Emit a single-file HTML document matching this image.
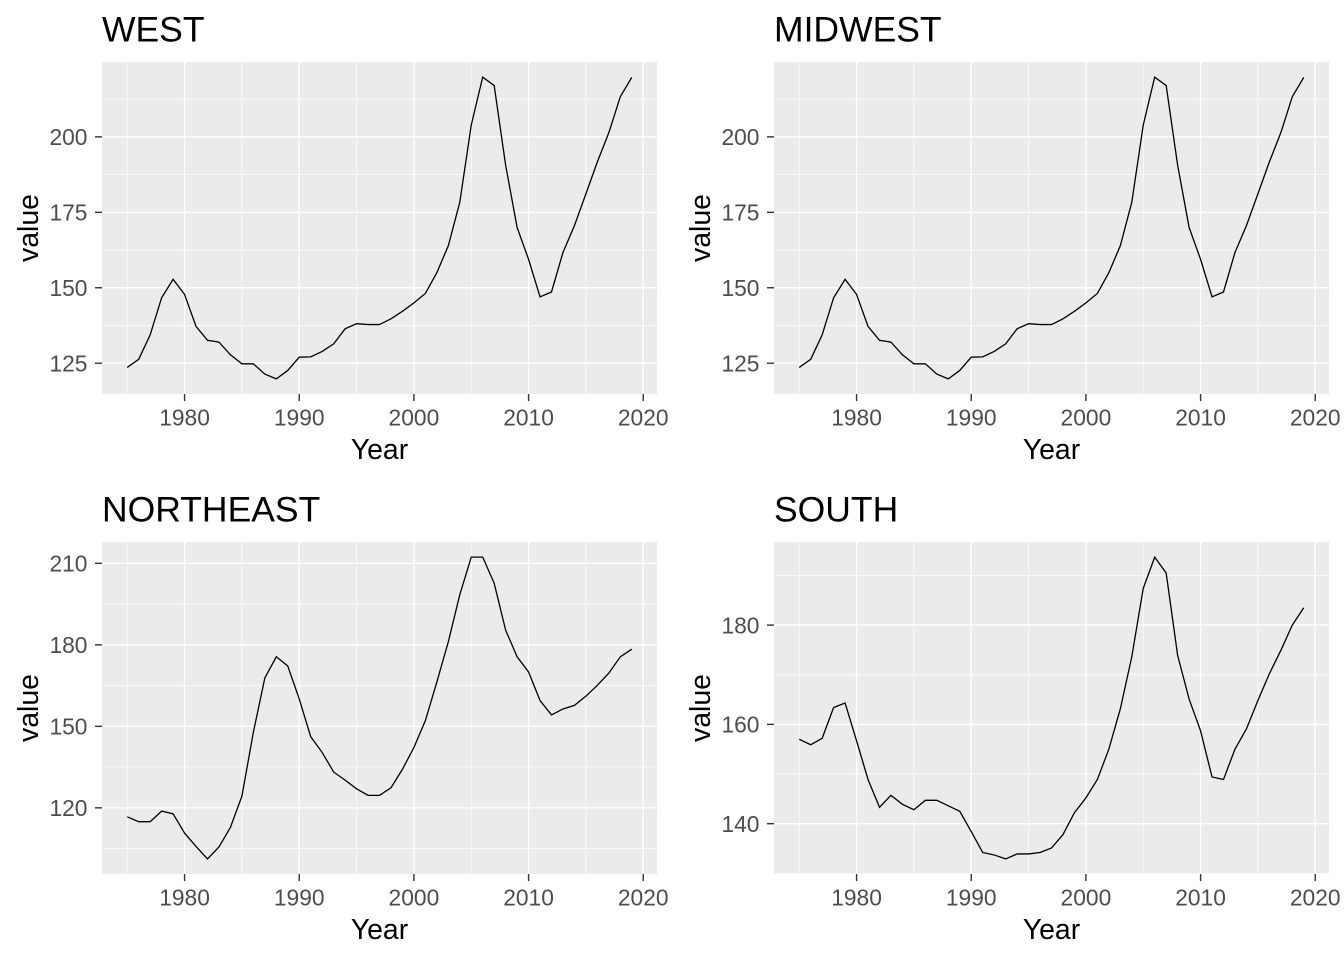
<!DOCTYPE html>
<html><head><meta charset="utf-8"><style>
html,body{margin:0;padding:0;background:#fff;}
svg{display:block;font-family:"Liberation Sans",Arial,sans-serif;}
</style></head><body>
<svg id="chart" width="1344" height="960" viewBox="0 0 1344 960" xmlns="http://www.w3.org/2000/svg"></svg>
<script>
const years = [];
for (let y = 1975; y <= 2019; y++) years.push(y);
const westValues = [123.6,126.3,134.4,146.7,152.8,147.8,137.2,132.6,132,127.8,124.8,124.8,121.4,119.8,122.6,127,127.1,128.9,131.4,136.4,138.1,137.8,137.8,139.7,142.2,145,148.1,155,163.9,178.3,203.9,219.8,217,190.6,170,159.4,147,148.6,161.7,170.6,181.1,191.7,201.4,213.3,219.7];
const midwestValues = [123.6,126.3,134.4,146.7,152.8,147.8,137.2,132.6,132,127.8,124.8,124.8,121.4,119.8,122.6,127,127.1,128.9,131.4,136.4,138.1,137.8,137.8,139.7,142.2,145,148.1,155,163.9,178.3,203.9,219.8,217,190.6,170,159.4,147,148.6,161.7,170.6,181.1,191.7,201.4,213.3,219.7];
const northeastValues = [116.7,114.9,114.9,118.8,117.8,110.7,105.8,101.2,105.6,112.8,124.3,147.8,167.8,175.6,172.2,160.1,146.2,140.4,133.2,130.2,127,124.6,124.6,127.4,134.2,142.2,152.1,166.3,181.1,198.4,212.3,212.3,202.7,185.4,175.6,170,159.5,154.2,156.4,157.7,161.1,165.1,169.6,175.6,178.4];
const southValues = [157,155.9,157.2,163.4,164.3,156.7,148.9,143.3,145.7,143.9,142.8,144.7,144.7,143.6,142.5,138.4,134.2,133.7,132.9,133.9,133.9,134.2,135.1,137.8,142.2,145.2,148.9,155,163.1,173.6,187.4,193.7,190.5,173.9,165.1,158.7,149.4,148.9,155,159.1,164.8,170.2,174.9,180,183.5];
const xTicks = [1980,1990,2000,2010,2020];
const westTicks = [125,150,175,200];
const northeastTicks = [120,150,180,210];
const southTicks = [140,160,180];

const NS = "http://www.w3.org/2000/svg";
const svg = document.getElementById('chart');
function el(tag, attrs, parent) {
  const e = document.createElementNS(NS, tag);
  for (const k in attrs) e.setAttribute(k, attrs[k]);
  (parent || svg).appendChild(e);
  return e;
}
function drawPanel(title, key, values, yTicks, px, py) {
  const W = 555, H = 332;
  const g = el('g', {});
  
  
  const xmin = Math.min(...years), xmax = Math.max(...years), xr = xmax - xmin;
  const x0 = xmin - 0.05 * xr, x1 = xmax + 0.05 * xr;
  const vmin = Math.min(...values), vmax = Math.max(...values), vr = vmax - vmin;
  const y0 = vmin - 0.05 * vr, y1 = vmax + 0.05 * vr;
  const sx = v => px + (v - x0) / (x1 - x0) * W;
  const sy = v => py + H - (v - y0) / (y1 - y0) * H;
  const bg = el('rect', {x: px, y: py, width: W, height: H, fill: '#ebebeb'}, g);
  
  
  const step = yTicks[1] - yTicks[0];
  const minorY = [yTicks[0] - step / 2];
  yTicks.forEach(t => minorY.push(t + step / 2));
  minorY.forEach(t => { const yy = sy(t); if (yy > py && yy < py + H) el('line', {x1: px, x2: px + W, y1: yy, y2: yy, stroke: '#fff', 'stroke-width': 0.7}, g); });
  for (let t = 1975; t <= 2025; t += 10) { const xx = sx(t); if (xx > px && xx < px + W) el('line', {x1: xx, x2: xx, y1: py, y2: py + H, stroke: '#fff', 'stroke-width': 0.7}, g); }
  yTicks.forEach(t => {
    const yy = sy(t);
    el('line', {x1: px, x2: px + W, y1: yy, y2: yy, stroke: '#fff', 'stroke-width': 1.4}, g);
    el('line', {x1: px - 7, x2: px, y1: yy, y2: yy, stroke: '#333', 'stroke-width': 1.4}, g);
    const tx = el('text', {x: px - 14.5, y: yy + 8.3, 'text-anchor': 'end', 'font-size': 22.8, fill: '#4d4d4d'}, g);
    tx.textContent = t;
    
    
  });
  xTicks.forEach(t => {
    const xx = sx(t);
    el('line', {x1: xx, x2: xx, y1: py, y2: py + H, stroke: '#fff', 'stroke-width': 1.4}, g);
    el('line', {x1: xx, x2: xx, y1: py + H, y2: py + H + 7, stroke: '#333', 'stroke-width': 1.4}, g);
    const tx = el('text', {x: xx, y: py + H + 31.5, 'text-anchor': 'middle', 'font-size': 22.8, fill: '#4d4d4d'}, g);
    tx.textContent = t;
    
    
  });
  const pts = years.map((yr, i) => sx(yr).toFixed(2) + ',' + sy(values[i]).toFixed(2)).join(' ');
  const line = el('polyline', {points: pts, fill: 'none', stroke: '#000', 'stroke-width': 1.3}, g);
  
  
  const tt = el('text', {x: px, y: py - 20.5, 'font-size': 35.5, fill: '#000'}, g);
  tt.textContent = title;
  
  
  const xt = el('text', {x: px + W / 2, y: py + H + 65, 'text-anchor': 'middle', 'font-size': 28.4, fill: '#000'}, g);
  xt.textContent = 'Year';
  
  
  const yt = el('text', {x: 0, y: 0, 'text-anchor': 'middle', 'font-size': 28.4, fill: '#000', transform: 'translate(' + (px - 64) + ',' + (py + H / 2) + ') rotate(-90)'}, g);
  yt.textContent = 'value';
  
  
}
drawPanel('WEST', 'west', westValues, westTicks, 102, 62);
drawPanel('MIDWEST', 'midwest', midwestValues, westTicks, 774, 62);
drawPanel('NORTHEAST', 'northeast', northeastValues, northeastTicks, 102, 542);
drawPanel('SOUTH', 'south', southValues, southTicks, 774, 542);
</script>
</body></html>
